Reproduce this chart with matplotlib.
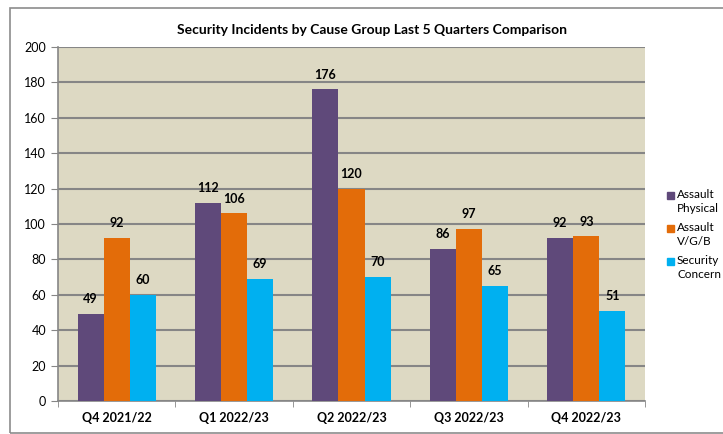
import numpy as np
import matplotlib.pyplot as plt
from matplotlib.patches import Rectangle

# Quarterly incident counts per cause group
quarters = ["Q4 2021/22", "Q1 2022/23", "Q2 2022/23", "Q3 2022/23", "Q4 2022/23"]
assault_physical = [49, 112, 176, 86, 92]
assault_vgb = [92, 106, 120, 97, 93]
security_concern = [60, 69, 70, 65, 51]

series = [
    ("Assault\nPhysical", assault_physical, "#5F497A"),
    ("Assault\nV/G/B", assault_vgb, "#E36C09"),
    ("Security\nConcern", security_concern, "#00B0F0"),
]

plt.rcParams["font.family"] = ["Lato", "DejaVu Sans"]

W, H = 723, 434
fig = plt.figure(figsize=(W / 100, H / 100), dpi=100)
fig.patches.append(Rectangle((10 / W, 1 / H), 1.0, 425 / H,
                             transform=fig.transFigure, fill=False,
                             edgecolor="#8c8c8c", linewidth=1.2))

ax = fig.add_axes([58 / W, 33 / H, 587 / W, 354 / H])
ax.set_facecolor("#DDD9C3")

x = np.arange(len(quarters))
width = 0.222
for i, (name, vals, color) in enumerate(series):
    pos = x + (i - 1) * width
    bars = ax.bar(pos, vals, width, color=color, label=name, zorder=3)
    for b, v in zip(bars, vals):
        ax.text(b.get_x() + b.get_width() / 2, v + 5, str(v),
                ha="center", va="bottom", fontsize=9, fontweight="bold")

ax.set_xlim(-0.5, len(quarters) - 0.5)
ax.set_ylim(0, 200)
ax.set_yticks(range(0, 201, 20))
ax.yaxis.grid(True, color="#868686", linewidth=1.5, zorder=1)
ax.set_axisbelow(True)

ax.set_xticks(x)
ax.set_xticklabels(quarters, fontweight="bold", fontsize=9)
ax.set_xticks(np.arange(-0.5, len(quarters), 1), minor=True)
ax.tick_params(axis="x", which="major", length=0, pad=8)
ax.tick_params(axis="x", which="minor", length=4, color="#868686")
ax.tick_params(axis="y", length=5, color="#868686", labelsize=9)

for side in ["top", "right"]:
    ax.spines[side].set_visible(False)
for side in ["left", "bottom"]:
    ax.spines[side].set_color("#868686")
    ax.spines[side].set_linewidth(1.2)

fig.text(372 / W, 1 - 30 / H, "Security Incidents by Cause Group Last 5 Quarters Comparison",
         ha="center", va="center", fontsize=10, fontweight="bold")

# legend: square key beside the first line of each wrapped label
for i, (name, vals, color) in enumerate(series):
    y_top = 189 + i * 33
    fig.patches.append(Rectangle((667 / W, 1 - (y_top + 10) / H), 7 / W, 7 / H,
                                 transform=fig.transFigure, color=color))
    fig.text(677 / W, 1 - y_top / H, name, ha="left", va="top",
             fontsize=8.5, linespacing=1.3)

fig.savefig("out.png", dpi=100)
